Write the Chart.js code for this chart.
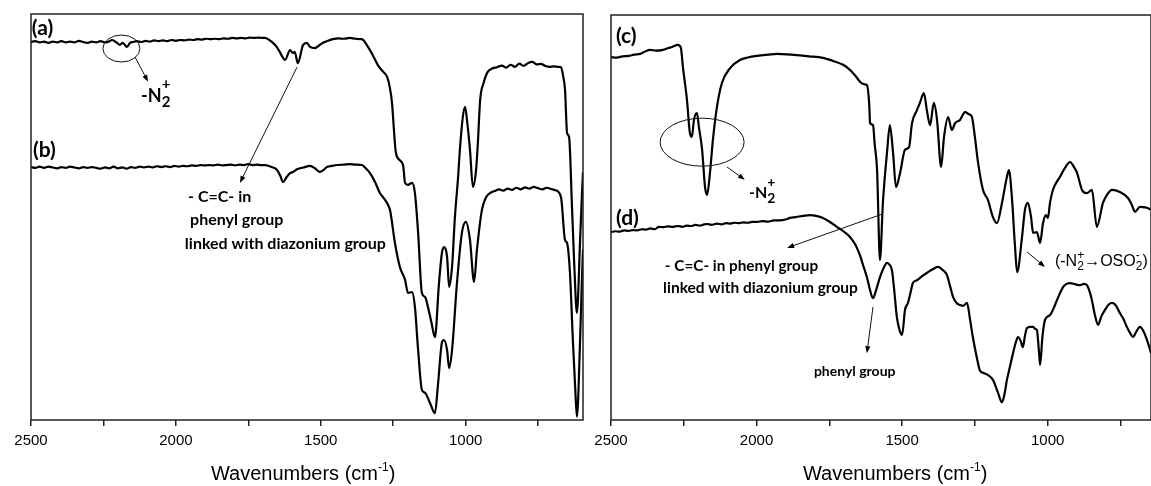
<!DOCTYPE html>
<html>
<head>
<meta charset="utf-8">
<script src="https://cdn.jsdelivr.net/npm/chart.js@4"></script>
<style>
  html, body { margin: 0; padding: 0; background: #fff; }
  #wrap { position: relative; width: 1151px; height: 486px; overflow: hidden; }
  canvas { position: absolute; top: 0; }
  #left { left: 0; }
  #right { left: 595px; }
</style>
</head>
<body>
<div id="wrap">
  <canvas id="left" width="595" height="486"></canvas>
  <canvas id="right" width="556" height="486"></canvas>
</div>
<script>
// spectra: wavenumber (cm-1) and transmittance (a.u., 0-100)
const wnA = [2500,2485,2470,2455,2440,2425,2410,2395,2380,2365,2350,2335,2320,2305,2290,2275,2260,2245,2232,2220,
  2203,2193,2183,2169,2158,2148,2135,2120,2105,2090,2075,2060,2045,2030,2015,2000,1985,1970,1955,1940,
  1925,1910,1895,1880,1865,1850,1835,1820,1805,1790,1775,1760,1745,1730,1715,1700,1692,1678,1665,1652,
  1641,1623,1606,1596,1590,1579,1561,1548,1537,1520,1505,1492,1475,1458,1440,1420,1400,1380,1358,1337,
  1320,1303,1285,1271,1262,1254,1248,1242,1232,1216,1209,1199,1185,1175,1164,1151,1140,1130,1118,1106,
  1092,1082,1075,1064,1057,1047,1037,1026,1020,1010,1002,994,985,975,964,958,950,938,926,910,
  892,875,860,845,830,815,800,785,770,755,740,725,710,695,680,671,663,657,650,643,
  633,625,616,605,598,595];
const trA = [93.1,93.3,93.0,93.2,92.9,93.2,93.0,93.3,93.0,93.2,93.0,93.4,93.1,92.9,93.2,93.0,93.3,93.0,93.2,93.6,
  92.9,92.4,92.9,91.9,92.9,93.1,93.3,93.1,93.4,93.2,93.5,93.3,93.5,93.3,93.6,93.4,93.6,93.5,93.7,93.6,
  93.8,93.7,93.9,93.8,93.9,93.8,94.0,93.9,94.1,94.0,94.1,94.0,94.2,94.1,94.2,94.1,94.1,93.6,92.9,91.9,
  90.6,88.7,91.1,90.4,90.7,87.9,92.4,92.9,91.9,91.6,92.3,92.9,93.4,93.8,94.0,93.9,94.1,93.9,93.8,91.9,
  89.8,87.4,85.8,84.5,82.0,78.0,72.0,66.5,64.3,62.8,58.4,57.9,58.4,55.9,46.1,31.3,30.3,27.8,24.0,20.4,
  33.7,41.1,42.6,40.1,32.8,37.7,50.0,59.9,66.5,74.5,77.1,73.0,66.5,57.4,61.6,68.0,78.8,83.0,85.5,86.5,
  86.9,87.3,86.8,87.5,87.0,87.8,87.2,87.9,88.2,87.6,87.7,87.2,87.0,87.1,87.0,86.9,84.5,81.3,70.7,69.7,
  52.5,38.0,26.4,44.3,56.7,61.0];

const wnB = [2500,2485,2470,2455,2440,2425,2410,2395,2380,2365,2350,2335,2320,2305,2290,2275,2260,2245,2230,2215,
  2200,2185,2170,2155,2140,2125,2110,2095,2080,2065,2050,2035,2020,2005,1990,1975,1960,1945,1930,1915,
  1900,1885,1870,1855,1840,1825,1810,1795,1780,1765,1750,1735,1720,1705,1692,1670,1651,1640,1630,1618,
  1606,1596,1580,1560,1537,1520,1503,1490,1479,1460,1444,1420,1400,1380,1358,1345,1330,1312,1296,1282,
  1268,1261,1244,1227,1209,1199,1185,1175,1164,1151,1140,1123,1106,1095,1082,1075,1064,1057,1047,1030,
  1013,999,985,971,961,944,930,916,900,885,870,855,840,825,810,795,780,765,750,735,
  720,705,690,671,657,650,640,630,622,616,605,598,595];
const trB = [62.3,62.1,62.4,62.1,62.4,62.2,62.0,62.3,62.1,62.4,62.2,62.0,62.3,62.1,62.3,62.1,61.9,62.2,62.0,62.4,
  62.0,62.2,61.9,62.3,62.1,62.4,62.2,62.4,62.2,62.5,62.3,62.5,62.3,62.6,62.4,62.6,62.5,62.7,62.6,62.8,
  62.7,62.8,62.7,62.9,62.7,62.8,62.9,62.7,62.9,62.8,63.0,62.8,62.9,62.8,62.8,62.3,61.6,60.2,58.6,59.8,
  60.8,61.1,61.8,62.2,62.6,62.0,61.1,61.6,62.3,62.6,62.8,62.9,63.0,62.9,62.8,62.0,60.8,58.5,55.9,54.6,
  53.0,51.7,43.6,37.7,34.5,31.3,31.5,27.8,17.2,7.4,6.7,4.2,1.7,9.1,19.0,19.7,17.2,12.8,17.2,33.7,
  46.1,48.8,44.3,34.0,41.9,51.7,54.8,55.9,56.4,56.8,56.5,57.0,56.7,57.2,56.8,57.3,57.0,57.4,57.1,56.8,
  57.2,56.9,56.6,54.9,44.3,43.6,36.2,19.7,8.0,0.8,19.7,36.2,42.0];

const wnC = [2500,2480,2460,2440,2420,2400,2385,2366,2345,2321,2305,2290,2270,2260,2253,2239,2229,2222,2215,2205,
  2198,2187,2177,2170,2160,2150,2136,2119,2091,2057,2030,1998,1960,1930,1895,1861,1820,1772,1735,1703,
  1685,1669,1655,1645,1630,1621,1613,1610,1600,1594,1586,1576,1566,1552,1542,1531,1521,1507,1490,1476,
  1466,1449,1439,1425,1415,1404,1391,1380,1366,1356,1342,1329,1318,1301,1284,1270,1260,1250,1239,1222,
  1205,1188,1174,1157,1140,1133,1123,1112,1105,1088,1078,1068,1057,1050,1037,1026,1016,1006,999,992,
  982,958,940,923,910,899,882,865,848,831,810,795,779,752,724,712,700,683,665,655,645];
const trC = [89.6,89.5,89.8,89.9,90.2,90.4,90.9,91.4,91.2,91.4,91.8,92.1,92.6,91.9,87.2,79.0,70.9,69.9,74.1,75.8,
  72.3,66.7,57.5,55.6,61.0,69.1,77.3,83.2,86.9,88.9,89.5,89.9,90.2,90.4,90.3,90.1,89.8,89.4,88.6,87.7,
  86.8,85.7,84.5,83.5,82.9,82.7,78.0,73.3,72.8,68.0,61.7,39.5,53.6,65.9,72.8,65.9,57.5,61.0,66.7,67.4,
  73.3,76.5,78.3,80.7,76.5,72.8,78.3,74.1,62.5,69.9,74.8,71.6,73.3,74.1,76.0,75.5,74.8,69.9,63.5,56.8,
  54.3,50.1,48.6,53.6,60.0,61.7,55.1,42.7,36.5,45.2,51.9,53.6,50.1,46.2,46.4,43.7,48.6,50.6,49.9,53.6,
  56.8,60.0,62.3,63.7,62.5,61.0,56.8,56.0,56.8,47.7,53.6,55.7,56.8,56.3,54.8,53.3,51.4,52.6,52.5,52.3,51.9];

const wnD = [2500,2485,2470,2455,2440,2425,2410,2395,2380,2365,2350,2335,2320,2305,2287,2270,2255,2240,2225,2210,
  2195,2180,2170,2155,2136,2120,2105,2090,2075,2060,2045,2030,2015,1998,1980,1960,1940,1920,1900,1885,
  1865,1840,1816,1795,1772,1748,1724,1700,1679,1660,1645,1633,1621,1610,1600,1588,1576,1563,1552,1545,
  1535,1527,1518,1508,1500,1490,1480,1470,1463,1449,1430,1415,1395,1377,1360,1346,1335,1325,1312,1301,
  1290,1277,1267,1257,1245,1233,1220,1205,1188,1172,1157,1148,1140,1130,1119,1110,1102,1093,1085,1078,
  1071,1060,1050,1043,1037,1030,1026,1018,1009,992,980,968,947,935,923,905,889,875,865,855,
  848,838,827,815,803,790,779,765,752,740,728,717,707,695,683,670,659,650,645];
const trD = [46.4,46.6,46.5,46.8,46.7,46.9,46.8,47.1,47.0,47.3,47.1,47.7,47.6,47.8,47.7,47.9,47.7,48.0,47.9,48.2,
  48.0,48.3,48.4,48.2,48.5,48.3,48.6,48.5,48.7,48.6,48.8,48.7,48.9,48.9,49.1,49.0,49.3,49.3,49.5,49.9,
  50.1,50.4,50.6,50.4,49.9,48.9,47.7,46.5,45.2,43.2,40.7,38.0,35.3,32.0,30.1,32.4,35.3,37.6,38.8,38.5,
  37.0,32.0,25.4,22.0,21.0,27.2,28.9,31.8,33.8,34.5,35.6,36.3,37.2,37.8,37.0,35.8,33.0,30.4,28.8,28.4,
  28.2,28.9,25.0,20.5,16.0,12.3,11.6,11.1,9.9,7.0,4.4,6.5,9.9,13.0,16.5,19.0,20.5,19.6,18.0,20.8,
  22.7,23.0,23.0,22.5,22.2,17.0,13.6,20.5,24.7,25.9,27.5,29.6,32.8,33.6,33.8,33.5,33.3,33.6,33.3,31.5,
  29.6,26.0,23.5,25.7,27.2,28.5,28.9,28.2,26.4,25.0,23.0,21.5,20.5,21.9,23.0,21.8,19.8,17.8,16.5];

const tickStep = 250;
const labelStep = 500;

const BOLD = 'Lato, "Open Sans", sans-serif';
const SANS = '"Liberation Sans", Arial, sans-serif';

function drawRich(ctx, x, y, parts, measureOnly) {
  let start = x;
  parts.forEach(p => {
    ctx.font = p.font;
    if (p.stack) {
      const w = Math.max(ctx.measureText(p.sub).width, ctx.measureText(p.sup).width);
      if (!measureOnly) {
        ctx.fillText(p.sub, x, y + p.subDy);
        ctx.fillText(p.sup, x, y + p.supDy);
      }
      x += w;
    } else {
      if (!measureOnly) ctx.fillText(p.text, x, y + (p.dy || 0));
      x += ctx.measureText(p.text).width;
    }
  });
  return x - start;
}

function arrow(ctx, x1, y1, x2, y2) {
  const ang = Math.atan2(y2 - y1, x2 - x1);
  ctx.beginPath();
  ctx.moveTo(x1, y1);
  ctx.lineTo(x2 - 5 * Math.cos(ang), y2 - 5 * Math.sin(ang));
  ctx.lineWidth = 1;
  ctx.stroke();
  ctx.beginPath();
  ctx.moveTo(x2, y2);
  ctx.lineTo(x2 - 7 * Math.cos(ang) + 2.6 * Math.sin(ang), y2 - 7 * Math.sin(ang) - 2.6 * Math.cos(ang));
  ctx.lineTo(x2 - 7 * Math.cos(ang) - 2.6 * Math.sin(ang), y2 - 7 * Math.sin(ang) + 2.6 * Math.cos(ang));
  ctx.closePath();
  ctx.fill();
}

function notesPlugin(notes) {
  return {
    id: 'notes',
    afterDraw(chart) {
      const { ctx, chartArea: a, scales: { x, y } } = chart;
      ctx.save();
      ctx.strokeStyle = '#222';
      ctx.fillStyle = '#000';
      ctx.lineWidth = 1.5;
      ctx.strokeRect(a.left, a.top, a.right - a.left, a.bottom - a.top);

      ctx.strokeStyle = '#111';
      notes.ellipses.forEach(e => {
        ctx.beginPath();
        ctx.lineWidth = 1;
        ctx.ellipse(x.getPixelForValue(e.wn), y.getPixelForValue(e.t), e.rx, e.ry, 0, 0, Math.PI * 2);
        ctx.stroke();
      });
      notes.arrows.forEach(r => {
        arrow(ctx, x.getPixelForValue(r[0]), y.getPixelForValue(r[1]),
          x.getPixelForValue(r[2]), y.getPixelForValue(r[3]));
      });
      ctx.textAlign = 'left';
      notes.labels.forEach(l => {
        ctx.textBaseline = l.baseline || 'middle';
        drawRich(ctx, x.getPixelForValue(l.wn), y.getPixelForValue(l.t), l.parts);
      });

      // axis title
      ctx.textBaseline = 'alphabetic';
      const tp = [
        { text: 'Wavenumbers (cm', font: '20px ' + SANS },
        { text: '-1', font: '12px ' + SANS, dy: -9 },
        { text: ')', font: '20px ' + SANS }
      ];
      const w = drawRich(ctx, 0, 0, tp, true);
      drawRich(ctx, x.getPixelForValue(notes.titleWn) - w / 2, a.bottom + 60, tp);
      ctx.restore();
    }
  };
}

function makeChart(id, curves, xMin, pad, notes) {
  return new Chart(document.getElementById(id), {
    type: 'line',
    data: {
      datasets: curves.map(c => ({
        data: c[0].map((w, i) => ({ x: w, y: c[1][i] })),
        borderColor: '#000',
        borderWidth: 2.2,
        pointRadius: 0,
        cubicInterpolationMode: 'monotone',
        fill: false
      }))
    },
    options: {
      responsive: false,
      animation: false,
      devicePixelRatio: 1,
      layout: { padding: pad },
      plugins: { legend: { display: false }, tooltip: { enabled: false } },
      scales: {
        x: {
          type: 'linear',
          reverse: true,
          min: xMin,
          max: 2500,
          afterBuildTicks(s) {
            s.ticks = [];
            for (let v = Math.ceil(xMin / tickStep) * tickStep; v <= 2500; v += tickStep) s.ticks.push({ value: v });
          },
          afterFit(s) { s.height = 66; },
          ticks: {
            autoSkip: false,
            maxRotation: 0,
            padding: 6,
            color: '#000',
            font: { family: SANS, size: 15 },
            callback: v => (v % labelStep === 0 ? String(v) : '')
          },
          grid: { drawOnChartArea: false, tickLength: 6, color: '#222', lineWidth: 1.5 },
          border: { display: false }
        },
        y: { display: false, min: 0, max: 100 }
      }
    },
    plugins: [notesPlugin(notes)]
  });
}

const bHead = 'bold 21px ' + BOLD;

makeChart('left', [[wnA, trA], [wnB, trB]], 595, { left: 31, top: 14, right: 12, bottom: 0 }, {
  titleWn: 1561,
  ellipses: [{ wn: 2188, t: 91.5, rx: 18.5, ry: 13.5 }],
  arrows: [[2141, 89.4, 2096, 83.3], [1582, 86.9, 1779, 58.4]],
  labels: [
    { wn: 2497, t: 96.4, parts: [{ text: '(a)', font: bHead }] },
    { wn: 2493, t: 66.5, parts: [{ text: '(b)', font: bHead }] },
    { wn: 2120, t: 78.3, baseline: 'alphabetic', parts: [
      { text: '-N', font: 'bold 18px ' + BOLD },
      { stack: true, sub: '2', sup: '+', font: 'bold 15px ' + BOLD, subDy: 5, supDy: -13 }
    ] },
    { wn: 1958, t: 55.0, parts: [{ text: '- C=C- in', font: 'bold 16px ' + BOLD }] },
    { wn: 1951, t: 49.3, parts: [{ text: 'phenyl group', font: 'bold 16px ' + BOLD }] },
    { wn: 1969, t: 43.3, parts: [{ text: 'linked with diazonium group', font: 'bold 16px ' + BOLD }] }
  ]
});

makeChart('right', [[wnC, trC], [wnD, trD]], 645, { left: 16, top: 15, right: 0, bottom: 0 }, {
  titleWn: 1524,
  ellipses: [{ wn: 2187, t: 68.6, rx: 42, ry: 24 }],
  arrows: [[2102, 62.5, 2040, 59.3], [1566, 50.9, 1895, 42.5], [1600, 27.9, 1621, 16.5], [1071, 41.5, 1009, 37.8]],
  labels: [
    { wn: 2483, t: 94.7, parts: [{ text: '(c)', font: bHead }] },
    { wn: 2483, t: 49.9, parts: [{ text: '(d)', font: bHead }] },
    { wn: 2026, t: 54.8, baseline: 'alphabetic', parts: [
      { text: '-N', font: 'bold 16px ' + BOLD },
      { stack: true, sub: '2', sup: '+', font: 'bold 14px ' + BOLD, subDy: 5, supDy: -11 }
    ] },
    { wn: 2315, t: 38.0, parts: [{ text: '- C=C- in phenyl group', font: 'bold 15.3px ' + BOLD }] },
    { wn: 2321, t: 32.6, parts: [{ text: 'linked with diazonium group', font: 'bold 15.5px ' + BOLD }] },
    { wn: 1803, t: 12.1, parts: [{ text: 'phenyl group', font: 'bold 14px ' + BOLD }] },
    { wn: 975, t: 38.0, baseline: 'alphabetic', parts: [
      { text: '(-N', font: '16px ' + SANS },
      { stack: true, sub: '2', sup: '+', font: '12px ' + SANS, subDy: 4, supDy: -7 },
      { text: '\u2192OSO', font: '16px ' + SANS },
      { stack: true, sub: '2', sup: '-', font: '12px ' + SANS, subDy: 4, supDy: -7 },
      { text: ')', font: '16px ' + SANS }
    ] }
  ]
});
</script>
</body>
</html>
